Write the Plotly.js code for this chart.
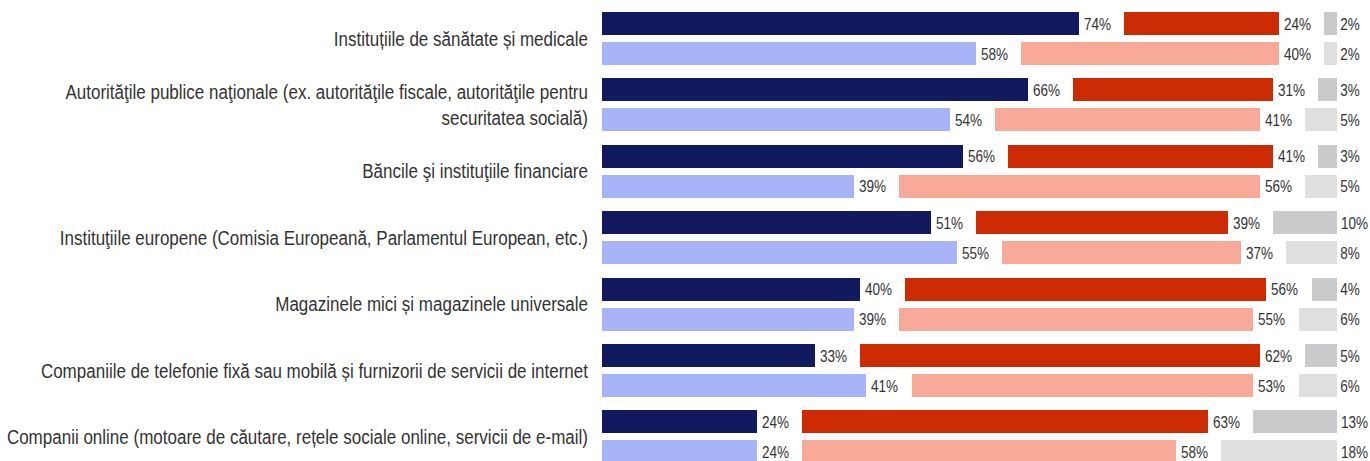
<!DOCTYPE html>
<html>
<head>
<meta charset="utf-8">
<script src="https://cdn.plot.ly/plotly-3.0.1.min.js"></script>
<style>
  html, body { margin: 0; padding: 0; background: #ffffff; }
  #chart { width: 1370px; height: 461px; }
</style>
</head>
<body>
<div id="chart"></div>
<script>
// ---- data ----
var categories = [
  "Instituțiile de sănătate și medicale",
  "Autorităţile publice naţionale (ex. autorităţile fiscale, autorităţile pentru<br>securitatea socială)",
  "Băncile şi instituţiile financiare",
  "Instituţiile europene (Comisia Europeană, Parlamentul European, etc.)",
  "Magazinele mici și magazinele universale",
  "Companiile de telefonie fixă sau mobilă și furnizorii de servicii de internet",
  "Companii online (motoare de căutare, rețele sociale online, servicii de e-mail)"
];
// dark row (upper bar of each pair)
var trustA    = [74, 66, 56, 51, 40, 33, 24];
var distrustA = [24, 31, 41, 39, 56, 62, 63];
var dontKnowA = [2, 3, 3, 10, 4, 5, 13];
// light row (lower bar of each pair)
var trustB    = [58, 54, 39, 55, 39, 41, 24];
var distrustB = [40, 41, 56, 37, 55, 53, 58];
var dontKnowB = [2, 5, 5, 8, 6, 6, 18];

// ---- styling / layout constants ----
var GAP = 7;              // blank space between segments (in % units)
var CAT_STEP = 66.4 / 30; // distance between categories in row units
var BAR_W = 23 / 30;
var colTrust = ["#121a5f", "#a7b5f8"];
var colDist  = ["#cc2b03", "#f9a998"];
var colDk    = ["#c9cacc", "#dfdfdf"];
var FONT = "'Liberation Sans', Arial, sans-serif";
var TXT = "#333333";
var NARROW_TICK = 0.85;   // horizontal condensing to mimic a narrow face
var NARROW_LABEL = 0.82;
var LABEL_SHIFT = [0, 0, -1.5];

var ys = [], s1 = [], s2 = [], s3 = [], c1 = [], c2 = [], c3 = [], gaps = [];
for (var k = 0; k < categories.length; k++) {
  var rows = [[trustA[k], distrustA[k], dontKnowA[k]], [trustB[k], distrustB[k], dontKnowB[k]]];
  for (var r = 0; r < 2; r++) {
    ys.push(k * CAT_STEP + r);
    s1.push(rows[r][0]); s2.push(rows[r][1]); s3.push(rows[r][2]);
    c1.push(colTrust[r]); c2.push(colDist[r]); c3.push(colDk[r]);
    gaps.push(GAP);
  }
}

function seg(x, colors, name) {
  return {
    type: "bar", orientation: "h", y: ys, x: x, width: BAR_W, name: name,
    marker: { color: colors, line: { width: 0 } },
    hoverinfo: "skip", showlegend: false
  };
}
var spacer = seg(gaps, "rgba(0,0,0,0)", "gap");
var traces = [
  seg(s1, c1, "Încredere"),
  spacer,
  seg(s2, c2, "Neîncredere"),
  spacer,
  seg(s3, c3, "Nu știu")
];

var annotations = [];
for (var i = 0; i < ys.length; i++) {
  var ends = [s1[i], s1[i] + GAP + s2[i], s1[i] + s2[i] + s3[i] + 2 * GAP];
  var vals = [s1[i], s2[i], s3[i]];
  for (var j = 0; j < 3; j++) {
    annotations.push({
      x: ends[j], y: ys[i], xref: "x", yref: "y",
      text: vals[j] + "%", showarrow: false,
      xanchor: "left", yanchor: "middle", xshift: LABEL_SHIFT[j],
      font: { family: FONT, size: 16.5, color: TXT }
    });
  }
}

var tickvals = categories.map(function (c, k) { return k * CAT_STEP + 0.5; });

var PX_PER_UNIT = 6.45;
var layout = {
  width: 1370, height: 461,
  margin: { l: 602, r: 0, t: 0, b: 0, pad: 0 },
  paper_bgcolor: "#ffffff", plot_bgcolor: "#ffffff",
  barmode: "stack", bargap: 0,
  showlegend: false,
  xaxis: {
    range: [0, 768 / PX_PER_UNIT], visible: false, fixedrange: true
  },
  yaxis: {
    range: [(461 - 23.5) / 30, -23.5 / 30],
    tickvals: tickvals, ticktext: categories,
    showgrid: false, zeroline: false, showline: false,
    ticks: "", ticklabelstandoff: 13,
    tickfont: { family: FONT, size: 20, color: TXT },
    fixedrange: true
  },
  annotations: annotations,
  font: { family: FONT, color: TXT }
};

function condense(el, f) {
  try {
    var len = el.getComputedTextLength();
    if (len > 0) {
      el.setAttribute("textLength", (len * f).toFixed(2));
      el.setAttribute("lengthAdjust", "spacingAndGlyphs");
    }
  } catch (e) {}
}

Plotly.newPlot("chart", traces, layout, { displayModeBar: false, staticPlot: true }).then(function (gd) {
  gd.querySelectorAll(".ytick text").forEach(function (t) {
    var lines = t.querySelectorAll("tspan.line");
    if (lines.length) { lines.forEach(function (l) { condense(l, NARROW_TICK); }); }
    else { condense(t, NARROW_TICK); }
  });
  gd.querySelectorAll(".annotation-text").forEach(function (t) {
    condense(t, NARROW_LABEL);
  });
});
</script>
</body>
</html>
